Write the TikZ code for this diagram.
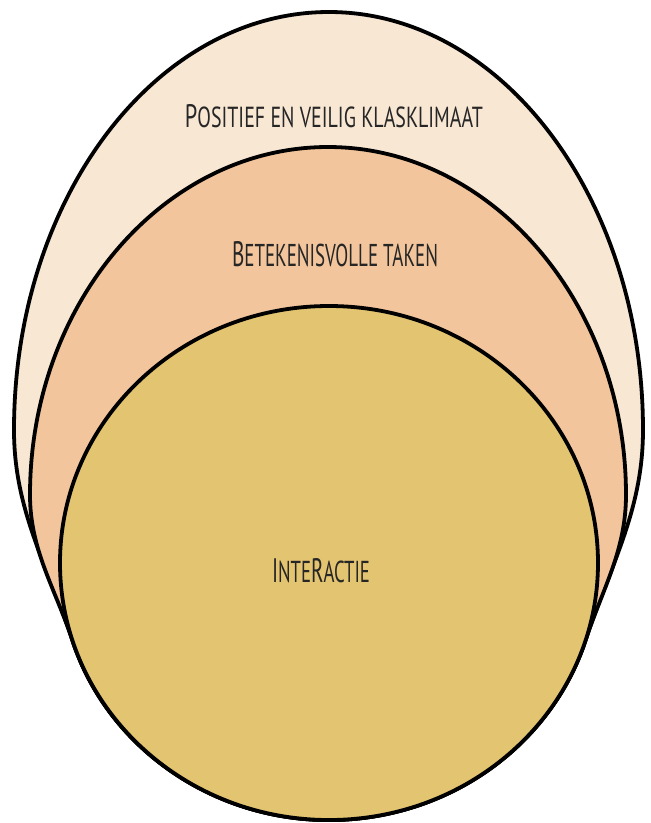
\documentclass[tikz,border=0pt]{standalone}
\usepackage{fontspec}
\setmainfont{PT Sans}
\usepackage{graphicx}
\definecolor{outerfill}{HTML}{F8E7D3}
\definecolor{midfill}{HTML}{F3C59C}
\definecolor{innerfill}{HTML}{E3C470}
\tikzset{
  shapeline/.style={draw=black, line width=3.8pt, line join=round},
  lbl/.style={inner sep=0pt, text=black!85}
}
\begin{document}
\begin{tikzpicture}[x=1pt, y=-1pt]
\fill[white] (0,0) rectangle (651,823);
\useasboundingbox (0,0) rectangle (651,823);
% junction points on the inner ellipse
\coordinate (JL) at (72.4,640.3);
\coordinate (JR) at (585.6,640.3);
\coordinate (C) at (329,563);
% outer shape
\path[shapeline, fill=outerfill]
  (JL) arc[start angle=162.5, end angle=17.5, x radius=269, y radius=257]
  .. controls (611,564) and (643,510) .. (643,430)
  .. controls (643,199) and (502,12) .. (329,12)
  .. controls (155,12) and (14,199) .. (14,430)
  .. controls (14,510) and (47,564) .. (JL) -- cycle;
% middle shape
\path[shapeline, fill=midfill]
  (JL) arc[start angle=162.5, end angle=17.5, x radius=269, y radius=257]
  .. controls (603,588) and (626,550) .. (626,495)
  .. controls (626,303) and (491,147) .. (328,147)
  .. controls (164,147) and (30,303) .. (30,495)
  .. controls (30,550) and (55,588) .. (JL) -- cycle;
% inner ellipse
\path[shapeline, fill=innerfill] (C) ellipse[x radius=269, y radius=257];
% labels
\node[lbl] (t1) at (334,116) {\resizebox{298pt}{23pt}{\fontsize{28}{30}\selectfont P\fontsize{25}{30}\selectfont OSITIEF EN VEILIG KLASKLIMAAT}};
\node[lbl] (t2) at (335,254) {\resizebox{206pt}{25pt}{\fontsize{28}{30}\selectfont B\fontsize{25}{30}\selectfont ETEKENISVOLLE TAKEN}};
\node[lbl] (t3) at (321,571) {\resizebox{98pt}{24pt}{\fontsize{28}{30}\selectfont I\fontsize{25}{30}\selectfont NTE\fontsize{28}{30}\selectfont R\fontsize{25}{30}\selectfont ACTIE}};
\end{tikzpicture}
\end{document}
